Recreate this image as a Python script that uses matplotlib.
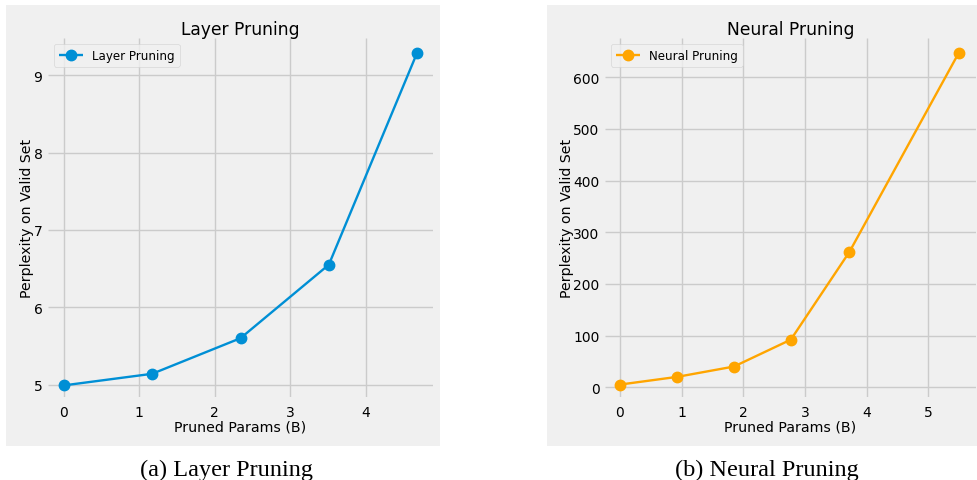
import matplotlib
matplotlib.use("Agg")
import matplotlib.pyplot as plt
from matplotlib.patches import Rectangle

# data
layer_x = [0, 1.17, 2.34, 3.51, 4.68]
layer_ppl = [4.99, 5.14, 5.60, 6.55, 9.29]
neural_x = [0, 0.93, 1.85, 2.77, 3.72, 5.49]
neural_ppl = [5, 20, 40, 92, 262, 647]

plt.style.use('fivethirtyeight')
plt.rcParams['font.family'] = 'DejaVu Sans'

W, H = 977, 481
fig = plt.figure(figsize=(W / 100, H / 100), dpi=100)
fig.patch.set_facecolor('white')

def px(x0, y0, x1, y1):
    # pixel box -> figure fraction [left, bottom, width, height]
    return [x0 / W, 1 - y1 / H, (x1 - x0) / W, (y1 - y0) / H]

# grey panel backgrounds
for box in [(6, 6, 440, 447), (547, 6, 977, 447)]:
    l, b, w, h = px(*box)
    fig.patches.append(Rectangle((l, b), w, h, transform=fig.transFigure,
                                 facecolor='#f0f0f0', edgecolor='none', zorder=-5))

panels = [
    (px(48, 39, 433, 398), layer_x, layer_ppl, '#008fd5', 'Layer Pruning',
     (-0.21, 4.89), (4.84, 9.48), [5, 6, 7, 8, 9], [0, 1, 2, 3, 4], 226),
    (px(605, 39, 976, 398), neural_x, neural_ppl, 'orange', 'Neural Pruning',
     (-0.24, 5.77), (-19, 676), [0, 100, 200, 300, 400, 500, 600], [0, 1, 2, 3, 4, 5], 767),
]

for i, (rect, xs, ys, color, name, xlim, ylim, yt, xt, cx) in enumerate(panels):
    ax = fig.add_axes(rect)
    ax.set_zorder(2)
    ax.set_facecolor('#f0f0f0')
    ax.plot(xs, ys, marker='o', color=color, linewidth=1.7, markersize=7.5, label=name)
    ax.set_xlim(*xlim)
    ax.set_ylim(*ylim)
    ax.set_xticks(xt)
    ax.set_yticks(yt)
    ax.tick_params(labelsize=10, length=0, pad=6)
    ax.tick_params(axis='y', pad=4)
    ax.grid(True, color='#cbcbcb', linewidth=1)
    ax.set_title(name, fontsize=12.3, pad=2.5)
    ax.set_xlabel('Pruned Params (B)', fontsize=10.2, labelpad=0)
    ax.set_ylabel('Perplexity on Valid Set', fontsize=10.2, labelpad=-0.5)
    for s in ax.spines.values():
        s.set_visible(False)
    leg = ax.legend(loc='upper left', fontsize=8.6, frameon=True, borderaxespad=0.5)
    leg.get_frame().set_facecolor('#f0f0f0')
    leg.get_frame().set_edgecolor('#d0d0d0')
    cap = '(a) Layer Pruning' if i == 0 else '(b) Neural Pruning'
    fig.text(cx / W, 1 - 470 / H, cap, ha='center', va='center',
             fontsize=17.5, family='Liberation Serif')

fig.savefig('out.png', dpi=100, facecolor='white')
